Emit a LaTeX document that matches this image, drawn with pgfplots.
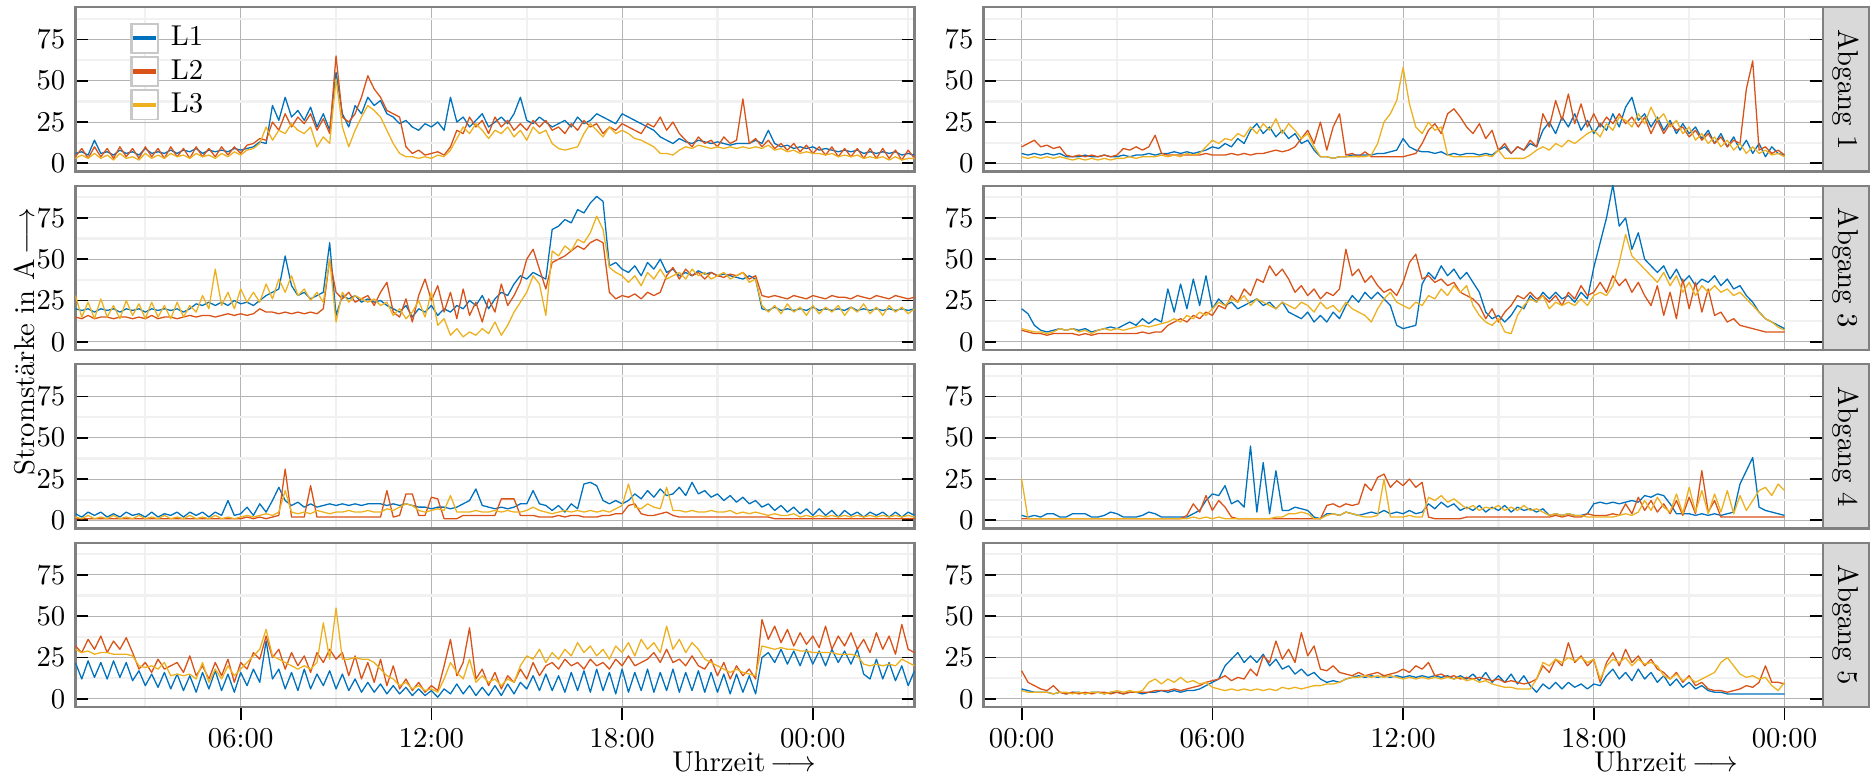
\documentclass[border=0pt]{standalone}
\usepackage{pgfplots}
\usepackage{pgfplotstable}
\pgfplotsset{compat=1.18}

\definecolor{cLa}{RGB}{0,114,189}
\definecolor{cLb}{RGB}{217,83,25}
\definecolor{cLc}{RGB}{237,177,32}
\definecolor{frameg}{RGB}{128,128,128}
\definecolor{gridmaj}{RGB}{180,180,180}
\definecolor{gridmin}{RGB}{241,241,241}
\definecolor{stripfill}{RGB}{217,217,217}
\definecolor{legbox}{RGB}{200,200,200}

% ---------- left column (columns: time in h, L1, L2, L3) ----------
\pgfplotstableread{
x a b c
0.8 6 4 3
1.0 7 9 5
1.2 5 3 3
1.4 14 10 6
1.6 6 4 3
1.8 7 9 5
2.0 5 3 2
2.2 8 10 6
2.4 6 4 3
2.6 7 9 4
2.8 5 3 2
3.0 9 10 6
3.2 6 4 3
3.4 7 9 5
3.6 6 3 3
3.8 8 10 6
4.0 6 4 4
4.2 8 9 5
4.4 7 3 3
4.6 9 10 6
4.8 6 4 4
5.0 8 9 5
5.2 7 4 3
5.4 8 10 6
5.6 7 5 4
5.8 9 10 7
6.0 8 6 5
6.2 9 11 8
6.4 10 12 9
6.6 13 15 12
6.8 12 14 22
7.0 35 25 14
7.2 26 20 20
7.4 40 30 18
7.6 28 22 24
7.8 32 28 20
8.0 26 24 18
8.2 34 30 22
8.4 22 20 10
8.6 30 27 16
8.8 20 18 12
9.0 55 65 51
9.2 30 28 22
9.4 22 25 10
9.6 35 30 20
9.8 30 40 28
10.0 40 53 35
10.2 35 45 32
10.4 38 40 28
10.6 30 32 20
10.8 28 30 12
11.0 24 28 6
11.2 26 10 4
11.4 22 6 4
11.6 20 8 3
11.8 24 5 4
12.0 22 6 3
12.2 25 7 5
12.4 20 5 4
12.6 40 10 8
12.8 25 20 15
13.0 28 18 22
13.2 22 28 18
13.4 26 22 24
13.6 30 26 20
13.8 22 18 15
14.0 25 28 20
14.2 28 22 18
14.4 24 26 22
14.6 30 20 16
14.8 40 24 20
15.0 26 20 14
15.2 24 26 22
15.4 28 22 18
15.6 25 26 20
15.8 22 20 12
16.0 24 22 9
16.2 26 18 8
16.4 22 24 9
16.6 28 20 10
16.8 24 26 18
17.0 26 22 24
17.2 30 24 20
17.4 28 18 16
17.6 26 22 22
17.8 24 20 18
18.0 30 24 20
18.2 28 22 18
18.4 26 20 15
18.6 24 18 14
18.8 22 24 12
19.0 20 22 10
19.2 16 28 6
19.4 14 20 6
19.6 12 25 5
19.8 15 18 8
20.0 13 14 10
20.2 12 10 9
20.4 14 16 11
20.6 13 12 10
20.8 12 14 9
21.0 13 10 10
21.2 12 16 9
21.4 11 12 10
21.6 12 14 9
21.8 12 39 10
22.0 12 12 9
22.2 14 15 10
22.4 12 10 9
22.6 20 14 11
22.8 12 9 8
23.0 10 12 9
23.2 11 8 7
23.4 9 12 8
23.6 10 7 6
23.8 9 11 7
24.0 10 6 6
24.2 8 10 6
24.4 9 5 5
24.6 8 10 6
24.8 7 4 4
25.0 8 9 5
25.2 7 4 4
25.4 8 9 5
25.6 6 3 3
25.8 7 9 4
26.0 6 3 3
26.2 7 9 4
26.4 6 3 2
26.6 7 8 4
26.8 5 2 2
27.0 6 8 3
27.2 5 3 3
}\tabLa

\pgfplotstableread{
x a b c
0.8 20 15 28
1.0 19 14 15
1.2 20 16 24
1.4 18 14 14
1.6 20 15 26
1.8 19 15 15
2.0 20 14 22
2.2 18 15 14
2.4 20 15 25
2.6 19 14 16
2.8 20 15 23
3.0 18 14 14
3.2 20 16 24
3.4 19 14 15
3.6 20 15 22
3.8 19 15 14
4.0 20 14 24
4.2 18 15 15
4.4 20 16 22
4.6 23 15 18
4.8 22 16 28
5.0 24 16 20
5.2 22 15 44
5.4 24 16 22
5.6 22 17 30
5.8 25 16 20
6.0 23 17 32
6.2 24 16 24
6.4 22 17 30
6.6 25 20 24
6.8 28 18 35
7.0 30 18 26
7.2 32 17 38
7.4 52 18 30
7.6 34 17 40
7.8 28 18 28
8.0 30 17 32
8.2 26 18 25
8.4 28 17 30
8.6 30 20 24
8.8 60 50 50
9.0 16 30 12
9.2 28 26 30
9.4 26 30 24
9.6 28 24 28
9.8 24 26 26
10.0 26 28 24
10.2 24 22 26
10.4 25 30 22
10.6 22 36 24
10.8 20 18 16
11.0 18 15 20
11.2 22 26 14
11.4 15 12 18
11.6 20 28 25
11.8 18 38 15
12.0 22 25 30
12.2 16 34 10
12.4 20 18 14
12.6 18 30 4
12.8 22 14 8
13.0 20 32 3
13.2 25 16 6
13.4 22 24 4
13.6 28 12 8
13.8 20 26 5
14.0 26 18 12
14.2 30 35 4
14.4 28 22 10
14.6 35 28 18
14.8 40 36 24
15.0 38 50 30
15.2 42 56 40
15.4 40 44 35
15.6 38 32 16
15.8 68 48 55
16.0 70 50 52
16.2 74 52 58
16.4 72 55 55
16.6 80 58 62
16.8 78 56 60
17.0 84 60 66
17.2 88 62 76
17.4 85 60 68
17.6 46 30 45
17.8 48 26 42
18.0 44 28 40
18.2 42 27 36
18.4 46 29 40
18.6 40 26 34
18.8 48 30 42
19.0 44 28 38
19.2 50 30 44
19.4 42 40 38
19.6 44 45 40
19.8 40 38 42
20.0 42 44 38
20.2 40 40 44
20.4 43 42 40
20.6 41 38 42
20.8 42 42 38
21.0 40 40 40
21.2 41 39 42
21.4 40 41 38
21.6 39 40 40
21.8 38 42 42
22.0 40 38 36
22.2 38 40 38
22.4 20 28 22
22.6 19 27 18
22.8 21 28 22
23.0 19 27 17
23.2 20 26 23
23.4 19 28 18
23.6 20 27 21
23.8 19 26 16
24.0 21 28 22
24.2 19 27 17
24.4 20 26 21
24.6 19 28 18
24.8 20 27 22
25.0 19 27 16
25.2 21 26 21
25.4 19 28 18
25.6 20 27 23
25.8 19 26 17
26.0 20 28 21
26.2 19 27 16
26.4 20 26 22
26.6 19 28 18
26.8 20 27 21
27.0 19 26 17
27.2 20 27 20
}\tabLb

\pgfplotstableread{
x a b c
0.8 4 1 2
1.0 2 1 1
1.2 5 1 3
1.4 3 1 1
1.6 5 1 2
1.8 2 1 1
2.0 4 1 3
2.2 2 1 1
2.4 5 1 2
2.6 3 1 1
2.8 4 1 3
3.0 2 1 1
3.2 5 1 2
3.4 2 1 1
3.6 4 1 3
3.8 3 1 1
4.0 5 1 2
4.2 2 1 1
4.4 5 1 3
4.6 3 1 1
4.8 5 1 2
5.0 2 1 1
5.2 5 1 3
5.4 3 1 1
5.6 12 1 2
5.8 3 1 1
6.0 4 1 2
6.2 8 2 3
6.4 3 1 2
6.6 10 2 3
6.8 5 1 4
7.0 12 2 3
7.2 20 3 5
7.4 12 31 18
7.6 9 2 5
7.8 11 2 4
8.0 8 2 5
8.2 10 21 4
8.4 8 2 6
8.6 9 2 5
8.8 10 2 4
9.0 9 2 5
9.2 10 2 5
9.4 9 2 6
9.6 10 2 5
9.8 9 2 5
10.0 10 2 6
10.2 10 2 5
10.4 10 2 5
10.6 9 18 7
10.8 10 2 6
11.0 9 3 8
11.2 10 16 10
11.4 9 16 9
11.6 8 3 6
11.8 8 3 5
12.0 7 14 6
12.2 8 13 7
12.4 8 1 6
12.6 7 1 15
12.8 8 1 5
13.0 10 3 5
13.2 12 3 5
13.4 19 3 6
13.6 9 3 5
13.8 8 3 5
14.0 7 3 6
14.2 8 13 5
14.4 7 13 6
14.6 8 13 5
14.8 10 3 5
15.0 10 3 6
15.2 18 3 8
15.4 10 2 6
15.6 9 2 5
15.8 6 2 4
16.0 9 3 5
16.2 5 2 6
16.4 10 3 5
16.6 7 3 6
16.8 22 2 5
17.0 23 2 6
17.2 21 2 5
17.4 12 3 6
17.6 10 3 5
17.8 12 4 7
18.0 10 4 9
18.2 12 9 22
18.4 16 10 8
18.6 13 4 7
18.8 18 3 10
19.0 14 3 8
19.2 19 4 7
19.4 15 5 20
19.6 16 3 6
19.8 20 2 6
20.0 15 2 5
20.2 23 2 6
20.4 16 2 5
20.6 18 2 5
20.8 14 2 6
21.0 16 2 5
21.2 12 2 5
21.4 15 2 6
21.6 11 2 4
21.8 14 2 5
22.0 10 2 4
22.2 12 2 5
22.4 8 2 4
22.6 10 2 3
22.8 6 1 4
23.0 9 1 3
23.2 5 1 3
23.4 8 1 4
23.6 4 1 2
23.8 7 1 3
24.0 3 1 2
24.2 7 1 3
24.4 3 1 2
24.6 6 1 3
24.8 2 1 2
25.0 6 1 3
25.2 3 1 2
25.4 5 1 3
25.6 2 1 2
25.8 5 1 3
26.0 3 1 2
26.2 5 1 3
26.4 2 1 2
26.6 5 1 3
26.8 2 1 2
27.0 5 1 3
27.2 3 1 2
}\tabLc

\pgfplotstableread{
x a b c
0.8 22 32 30
1.0 12 28 28
1.2 23 36 29
1.4 13 30 27
1.6 22 38 28
1.8 12 28 28
2.0 23 35 27
2.2 13 30 27
2.4 22 37 27
2.6 11 28 26
2.8 17 18 20
3.0 8 22 19
3.2 15 16 20
3.4 7 24 18
3.6 16 18 22
3.8 6 20 14
4.0 15 22 15
4.2 5 16 14
4.4 14 26 15
4.6 4 14 12
4.8 16 20 22
5.0 6 12 10
5.2 17 22 18
5.4 5 14 12
5.6 15 24 20
5.8 4 10 14
6.0 16 22 18
6.2 8 18 22
6.4 18 28 26
6.6 10 24 30
6.8 35 38 42
7.0 12 25 26
7.2 18 30 24
7.4 6 18 22
7.6 16 28 20
7.8 5 20 18
8.0 18 26 20
8.2 6 16 18
8.4 15 28 22
8.6 8 22 46
8.8 17 30 24
9.0 6 24 55
9.2 15 28 24
9.4 5 14 24
9.6 12 26 25
9.8 4 12 24
10.0 10 22 24
10.2 4 10 22
10.4 9 24 18
10.6 3 8 14
10.8 8 20 12
11.0 3 6 8
11.2 7 12 10
11.4 2 5 6
11.6 6 10 8
11.8 2 4 5
12.0 5 8 6
12.2 1 5 4
12.4 6 20 12
12.6 3 36 22
12.8 9 14 16
13.0 3 22 12
13.2 8 43 24
13.4 2 12 10
13.6 7 18 14
13.8 2 8 10
14.0 8 16 12
14.2 2 6 8
14.4 9 14 12
14.6 3 10 10
14.8 10 18 20
15.0 6 12 26
15.2 14 22 24
15.4 5 14 30
15.6 15 20 22
15.8 5 22 28
16.0 14 18 24
16.2 4 24 30
16.4 16 20 26
16.6 5 22 34
16.8 17 18 28
17.0 4 24 32
17.2 18 20 26
17.4 5 22 30
17.6 16 18 24
17.8 3 24 32
18.0 18 20 28
18.2 4 26 34
18.4 16 20 26
18.6 5 22 36
18.8 18 24 30
19.0 4 28 34
19.2 16 22 28
19.4 5 30 44
19.6 18 22 30
19.8 4 24 36
20.0 16 20 28
20.2 5 26 34
20.4 17 20 30
20.6 4 18 24
20.8 16 24 22
21.0 4 14 20
21.2 15 22 18
21.4 3 12 16
21.6 15 20 18
21.8 4 14 16
22.0 14 18 15
22.2 3 12 14
22.4 25 48 32
22.6 28 36 31
22.8 22 44 30
23.0 30 34 31
23.2 21 42 30
23.4 29 32 30
23.6 20 40 29
23.8 30 33 29
24.0 21 38 28
24.2 29 31 28
24.4 20 44 28
24.6 30 30 28
24.8 22 38 27
25.0 29 32 27
25.2 21 40 27
25.4 30 30 26
25.6 15 36 21
25.8 12 28 20
26.0 24 40 21
26.2 12 30 20
26.4 22 38 21
26.6 11 27 20
26.8 20 45 24
27.0 8 30 22
27.2 17 28 20
}\tabLd

% ---------- right column: Abgang 1, 3, 4, 5 ----------
\pgfplotstableread{
x a b c
0.0 6 10 4
0.2 5 12 3
0.4 6 14 4
0.6 5 10 3
0.8 6 11 4
1.0 5 9 3
1.2 6 10 4
1.4 4 5 3
1.6 4 4 2
1.8 4 5 3
2.0 5 4 2
2.2 4 5 3
2.4 4 4 2
2.6 5 5 3
2.8 4 4 2
3.0 4 5 3
3.2 5 9 3
3.4 4 8 4
3.6 5 10 3
3.8 5 8 4
4.0 6 10 4
4.2 5 17 4
4.4 6 6 5
4.6 6 5 4
4.8 7 5 5
5.0 6 5 4
5.2 7 5 6
5.4 6 5 5
5.6 7 5 6
5.8 8 6 10
6.0 10 5 14
6.2 9 5 12
6.4 12 5 15
6.6 10 6 14
6.8 15 5 18
7.0 12 6 16
7.2 20 5 22
7.4 24 6 18
7.6 18 6 24
7.8 22 7 20
8.0 16 8 27
8.2 20 7 18
8.4 15 8 24
8.6 18 10 20
8.8 12 15 15
9.0 14 20 18
9.2 8 12 10
9.4 4 25 4
9.6 4 8 4
9.8 3 22 3
10.0 4 30 4
10.2 4 5 4
10.4 5 6 4
10.6 5 4 4
10.8 5 7 4
11.0 5 4 5
11.2 6 4 12
11.4 6 4 25
11.6 7 4 30
11.8 8 4 38
12.0 15 4 58
12.2 10 5 36
12.4 8 6 22
12.6 7 12 18
12.8 7 20 25
13.0 6 24 20
13.2 7 18 22
13.4 5 30 5
13.6 6 33 4
13.8 5 28 4
14.0 6 22 4
14.2 6 18 4
14.4 5 24 4
14.6 6 15 5
14.8 5 20 4
15.0 8 8 8
15.2 10 12 3
15.4 6 6 3
15.6 10 10 3
15.8 8 8 3
16.0 12 14 5
16.2 10 10 8
16.4 20 30 10
16.6 25 22 8
16.8 18 38 12
17.0 28 26 10
17.2 22 42 14
17.4 30 24 12
17.6 20 36 15
17.8 26 22 18
18.0 18 30 20
18.2 24 22 16
18.4 20 28 24
18.6 30 24 20
18.8 22 30 28
19.0 34 24 26
19.2 40 28 22
19.4 26 22 30
19.6 30 28 24
19.8 22 18 34
20.0 28 26 26
20.2 20 18 30
20.4 26 24 22
20.6 18 20 26
20.8 24 22 18
21.0 18 16 22
21.2 22 20 14
21.4 15 14 18
21.6 20 18 12
21.8 12 12 16
22.0 18 16 10
22.2 10 10 14
22.4 16 14 8
22.6 8 12 12
22.8 14 45 6
23.0 6 62 10
23.2 12 8 6
23.4 4 10 8
23.6 10 6 5
23.8 6 8 6
24.0 5 5 4
}\tabRa

\pgfplotstableread{
x a b c
0.0 20 7 8
0.2 17 6 7
0.4 10 5 6
0.6 7 5 6
0.8 6 4 5
1.0 7 5 6
1.2 8 5 8
1.4 7 5 7
1.6 8 5 8
1.8 7 4 6
2.0 8 5 7
2.2 6 4 5
2.4 7 5 7
2.6 8 5 8
2.8 9 5 7
3.0 8 5 8
3.2 10 5 7
3.4 12 5 8
3.6 10 5 9
3.8 14 6 10
4.0 11 5 9
4.2 14 6 10
4.4 12 6 11
4.6 32 10 12
4.8 18 12 14
5.0 35 14 12
5.2 20 12 16
5.4 38 16 14
5.6 22 14 18
5.8 40 18 16
6.0 20 16 20
6.2 26 22 24
6.4 22 20 22
6.6 24 28 26
6.8 20 24 24
7.0 22 32 28
7.2 24 28 22
7.4 26 38 26
7.6 22 36 24
7.8 24 46 22
8.0 20 40 20
8.2 24 44 24
8.4 18 38 22
8.6 16 30 20
8.8 14 34 24
9.0 18 28 22
9.2 12 32 18
9.4 16 26 24
9.6 12 30 20
9.8 18 28 22
10.0 14 32 18
10.2 22 56 24
10.4 28 40 20
10.6 24 44 18
10.8 30 36 16
11.0 26 40 12
11.2 30 34 20
11.4 26 30 26
11.6 22 32 30
11.8 10 28 24
12.0 8 36 22
12.2 9 48 20
12.4 10 53 24
12.6 35 38 22
12.8 42 40 28
13.0 38 36 26
13.2 46 38 32
13.4 40 34 28
13.6 44 36 34
13.8 38 30 30
14.0 42 28 34
14.2 36 26 22
14.4 30 22 16
14.6 18 14 12
14.8 14 20 10
15.0 16 12 14
15.2 12 18 6
15.4 16 22 5
15.6 22 28 16
15.8 20 26 22
16.0 28 30 26
16.2 24 26 24
16.4 30 28 28
16.6 26 24 20
16.8 30 28 24
17.0 26 22 22
17.2 28 30 24
17.4 24 26 22
17.6 30 34 26
17.8 26 28 22
18.0 45 30 28
18.2 60 36 30
18.4 75 30 28
18.6 95 40 34
18.8 70 34 48
19.0 75 38 65
19.2 56 30 52
19.4 66 36 48
19.6 50 28 44
19.8 46 22 40
20.0 42 34 36
20.2 46 16 42
20.4 38 30 34
20.6 44 14 40
20.8 36 38 30
21.0 40 20 36
21.2 34 36 28
21.4 38 18 34
21.6 36 32 30
21.8 40 16 34
22.0 34 18 30
22.2 38 12 32
22.4 32 14 28
22.6 34 10 30
22.8 28 9 26
23.0 24 8 22
23.2 18 7 18
23.4 14 6 14
23.6 12 6 12
23.8 10 6 9
24.0 8 6 7
}\tabRb

\pgfplotstableread{
x a b c
0.0 3 1 25
0.2 2 1 1
0.4 3 1 1
0.6 2 1 1
0.8 4 1 1
1.0 4 1 1
1.2 2 1 1
1.4 2 1 1
1.6 4 1 1
1.8 4 1 1
2.0 4 1 1
2.2 2 1 1
2.4 2 1 1
2.6 3 1 1
2.8 5 1 1
3.0 4 1 1
3.2 2 1 1
3.4 2 1 1
3.6 2 1 1
3.8 3 1 1
4.0 5 1 1
4.2 4 1 1
4.4 2 1 1
4.6 2 1 1
4.8 2 1 1
5.0 2 1 1
5.2 2 3 1
5.4 4 10 2
5.6 6 5 1
5.8 12 15 2
6.0 16 6 1
6.2 15 12 2
6.4 21 8 1
6.6 10 2 1
6.8 12 1 1
7.0 8 1 1
7.2 45 1 1
7.4 5 1 1
7.6 35 1 1
7.8 4 1 1
8.0 30 1 2
8.2 6 1 2
8.4 6 1 4
8.6 8 1 4
8.8 7 1 5
9.0 6 1 4
9.2 2 1 1
9.4 1 1 1
9.6 4 9 3
9.8 4 10 4
10.0 3 8 3
10.2 5 10 5
10.4 4 9 4
10.6 3 10 3
10.8 4 22 2
11.0 5 18 2
11.2 4 26 3
11.4 6 28 25
11.6 4 20 2
11.8 5 24 2
12.0 4 21 2
12.2 6 25 3
12.4 4 20 2
12.6 5 23 2
12.8 10 2 14
13.0 7 1 12
13.2 11 1 15
13.4 8 1 11
13.6 10 1 13
13.8 6 1 10
14.0 8 2 7
14.2 6 2 9
14.4 9 2 6
14.6 5 2 8
14.8 8 2 7
15.0 6 2 9
15.2 9 2 6
15.4 5 2 8
15.6 8 2 6
15.8 6 2 9
16.0 7 2 6
16.2 5 2 7
16.4 7 2 5
16.6 3 2 3
16.8 4 3 4
17.0 3 2 3
17.2 4 3 4
17.4 3 2 3
17.6 3 2 3
17.8 4 4 2
18.0 10 3 2
18.2 11 3 2
18.4 10 3 2
18.6 11 4 2
18.8 10 3 3
19.0 11 10 4
19.2 12 4 3
19.4 11 14 5
19.6 15 6 12
19.8 14 12 6
20.0 16 5 14
20.2 15 10 8
20.4 10 4 5
20.6 4 12 16
20.8 4 3 4
21.0 4 14 20
21.2 3 4 5
21.4 4 30 18
21.6 3 5 4
21.8 4 12 16
22.0 3 2 5
22.2 4 2 18
22.4 5 2 4
22.6 22 2 15
22.8 30 2 6
23.0 38 2 12
23.2 8 2 18
23.4 6 2 20
23.6 5 2 15
23.8 4 2 22
24.0 3 2 18
}\tabRc

\pgfplotstableread{
x a b c
0.0 6 17 5
0.2 5 10 4
0.4 4 8 4
0.6 4 6 4
0.8 4 5 4
1.0 3 8 3
1.2 4 4 4
1.4 3 3 4
1.6 4 4 3
1.8 4 3 4
2.0 3 4 3
2.2 4 3 4
2.4 4 4 4
2.6 3 4 3
2.8 4 3 4
3.0 4 4 5
3.2 3 3 4
3.4 4 4 5
3.6 4 4 4
3.8 3 4 5
4.0 4 4 10
4.2 4 5 12
4.4 5 5 9
4.6 4 5 12
4.8 5 6 10
5.0 4 5 13
5.2 5 6 10
5.4 5 7 11
5.6 6 8 9
5.8 8 10 10
6.0 10 11 7
6.2 12 12 6
6.4 20 14 5
6.6 24 11 6
6.8 28 13 5
7.0 22 12 6
7.2 26 18 5
7.4 22 14 6
7.6 27 26 5
7.8 20 22 6
8.0 24 35 5
8.2 18 24 7
8.4 20 30 6
8.6 15 22 7
8.8 18 40 6
9.0 14 26 7
9.2 16 32 8
9.4 12 18 8
9.6 10 17 9
9.8 11 20 9
10.0 10 16 10
10.2 12 15 12
10.4 13 14 13
10.6 14 16 13
10.8 13 14 14
11.0 14 15 13
11.2 13 16 14
11.4 14 14 13
11.6 13 15 14
11.8 14 16 13
12.0 13 18 12
12.2 14 16 13
12.4 13 20 12
12.6 14 18 13
12.8 13 22 12
13.0 14 14 13
13.2 13 15 12
13.4 14 13 13
13.6 12 14 12
13.8 14 12 13
14.0 12 13 11
14.2 15 12 12
14.4 11 13 10
14.6 16 12 11
14.8 10 11 9
15.0 14 12 8
15.2 10 10 7
15.4 15 11 7
15.6 9 10 6
15.8 14 9 6
16.0 8 10 6
16.2 4 12 12
16.4 9 20 22
16.6 6 16 20
16.8 10 24 24
17.0 6 20 22
17.2 10 34 25
17.4 7 22 23
17.6 9 26 25
17.8 6 20 22
18.0 9 24 24
18.2 8 10 12
18.4 14 22 20
18.6 18 28 24
18.8 12 20 22
19.0 16 30 25
19.2 11 22 20
19.4 18 26 24
19.6 12 20 21
19.8 16 24 22
20.0 10 18 20
20.2 14 16 14
20.4 8 12 12
20.6 12 16 15
20.8 7 10 11
21.0 10 14 13
21.2 6 8 10
21.4 8 10 12
21.6 5 6 14
21.8 4 5 16
22.0 4 5 22
22.2 3 4 25
22.4 3 5 20
22.6 3 6 15
22.8 3 8 13
23.0 3 7 14
23.2 3 10 12
23.4 3 20 13
23.6 3 10 8
23.8 3 10 5
24.0 3 9 10
}\tabRd

\pgfplotsset{
  panel/.style={
    scale only axis, width=292.4pt, height=57.3pt,
    anchor=north west,
    ymin=-5, ymax=94.5, enlargelimits=false,
    ytick={0,25,50,75}, minor ytick={12.5,37.5,62.5,87.5},
    xmajorgrids, ymajorgrids, xminorgrids, yminorgrids,
    major grid style={line width=0.35pt, draw=gridmaj},
    minor grid style={line width=0.8pt, draw=gridmin},
    axis line style={line width=0.8pt, draw=frameg},
    tick style={line width=0.6pt, draw=black},
    major tick length=4.5pt, minor tick length=0pt,
    ytick align=inside, ytick pos=both, yticklabel pos=left,
    xtick align=outside, xtick pos=left,
    tick label style={font=\normalsize},
    xticklabel style={inner sep=1pt, yshift=-1.6pt},
    clip mode=individual,
    every axis plot/.append style={line width=0.45pt, line join=round, no markers},
  },
  lefttime/.style={xmin=0.8, xmax=27.2, xtick={6,12,18,24},
    minor xtick={3,9,15,21,27}, xticklabels={06:00,12:00,18:00,00:00}},
  righttime/.style={xmin=-1.2, xmax=25.2, xtick={0,6,12,18,24},
    minor xtick={3,9,15,21}, xticklabels={00:00,06:00,12:00,18:00,00:00}},
  upper/.style={xmajorticks=false},
}

\newcommand{\phases}[1]{%
  \addplot[cLa] table[x=x, y=a] {#1};
  \addplot[cLb] table[x=x, y=b] {#1};
  \addplot[cLc] table[x=x, y=c] {#1};
}
\newcommand{\strip}[1]{%
  \draw[line width=0.8pt, draw=frameg, fill=stripfill]
    (rel axis cs:1,0) rectangle ([xshift=16.1pt]rel axis cs:1,1);
  \node[rotate=-90] at ([xshift=8.05pt]rel axis cs:1,0.5) {#1};
}

\begin{document}
\begin{tikzpicture}
\useasboundingbox (0,0) rectangle (653pt,270.4pt);

% left column
\begin{axis}[panel, lefttime, upper, at={(26.27pt,267.9pt)},
  legend cell align=left,
  legend style={at={(0,1)}, anchor=north west, xshift=18.93pt, yshift=-5.46pt,
    draw=none, fill=none, inner sep=0pt, outer sep=0pt,
    row sep=0.85pt, column sep=4pt,
    nodes={inner sep=0pt, outer sep=0pt}},
  legend image code/.code={
    \fill[legbox] (0pt,-5.15pt) rectangle (9.9pt,5.15pt);
    \fill[white] (1pt,-4.55pt) rectangle (8.9pt,4.55pt);
    \draw[#1, line width=1.5pt] (1pt,0pt) -- (8.9pt,0pt);
  }]
\phases{\tabLa}
\legend{L1,L2,L3}
\end{axis}
\begin{axis}[panel, lefttime, upper, at={(26.27pt,205.7pt)}]
\phases{\tabLb}
\end{axis}
\begin{axis}[panel, lefttime, upper, at={(26.27pt,143.5pt)}]
\phases{\tabLc}
\end{axis}
\begin{axis}[panel, lefttime, at={(26.27pt,81.3pt)}]
\phases{\tabLd}
\end{axis}

% right column
\begin{axis}[panel, righttime, upper, at={(342.7pt,267.9pt)}]
\phases{\tabRa}
\strip{Abgang 1}
\end{axis}
\begin{axis}[panel, righttime, upper, at={(342.7pt,205.7pt)}]
\phases{\tabRb}
\strip{Abgang 3}
\end{axis}
\begin{axis}[panel, righttime, upper, at={(342.7pt,143.5pt)}]
\phases{\tabRc}
\strip{Abgang 4}
\end{axis}
\begin{axis}[panel, righttime, at={(342.7pt,81.3pt)}]
\phases{\tabRd}
\strip{Abgang 5}
\end{axis}

% axis titles
\node[rotate=90, inner sep=0pt] at (8.4pt,151.3pt) {Stromstärke in A\,$\longrightarrow$};
\node[anchor=base, inner sep=0pt] at (259.4pt,1.4pt) {Uhrzeit\,$\longrightarrow$};
\node[anchor=base, inner sep=0pt] at (580.6pt,1.4pt) {Uhrzeit\,$\longrightarrow$};
\end{tikzpicture}
\end{document}
